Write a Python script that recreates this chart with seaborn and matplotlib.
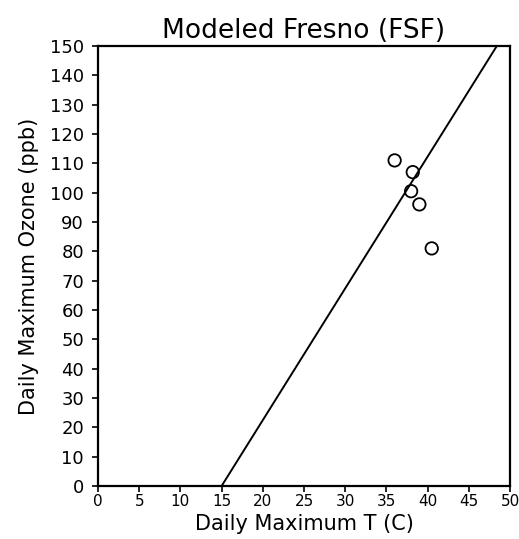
"""
Modeled Fresno (FSF): daily max ozone vs daily max temperature.
"""

import pandas as pd
import matplotlib
matplotlib.use("Agg")
import matplotlib.pyplot as plt
import seaborn as sns

# Data
temp_c = [36.0, 38.2, 38.0, 39.0, 40.5]
ozone_ppb = [111, 107, 100.5, 96, 81]

# fitted line (start / end)
line_t = [15.0, 48.4]
line_o = [0.0, 150.0]

x_ticks = list(range(0, 51, 5))
y_ticks = list(range(0, 151, 10))

sns.set_style("white")
plt.rcParams['font.family'] = ['DejaVu Sans']
plt.rcParams['text.color'] = 'black'
plt.rcParams['axes.labelcolor'] = 'black'
plt.rcParams['xtick.color'] = 'black'
plt.rcParams['ytick.color'] = 'black'

pts = pd.DataFrame({'temp': temp_c, 'ozone': ozone_ppb})
fit = pd.DataFrame({'temp': line_t, 'ozone': line_o})

fig = plt.figure(figsize=(5.19, 5.39), dpi=100)
ax = fig.add_axes([98 / 519, 53 / 539, 412 / 519, 440 / 539])

sns.lineplot(data=fit, x='temp', y='ozone', color='black', linewidth=1.4, ax=ax)
sns.scatterplot(data=pts, x='temp', y='ozone', s=80, facecolor='none',
                edgecolor='black', linewidth=1.3, ax=ax, zorder=3)

ax.set_xlim(0, 50)
ax.set_ylim(0, 150)
ax.set_xticks(x_ticks)
ax.set_yticks(y_ticks)
ax.tick_params(axis='x', labelsize=11, length=4, width=1.2, direction='out',
               bottom=True, pad=2)
ax.tick_params(axis='y', labelsize=13, length=4, width=1.2, direction='out',
               left=True, pad=6)

for sp in ax.spines.values():
    sp.set_color('black')
    sp.set_linewidth(1.6)

ax.set_title('Modeled Fresno (FSF)', fontsize=19, pad=6)
ax.set_xlabel('Daily Maximum T (C)', fontsize=15, labelpad=3)
ax.set_ylabel('Daily Maximum Ozone (ppb)', fontsize=15, labelpad=8)

plt.savefig('out.png', dpi=100)
